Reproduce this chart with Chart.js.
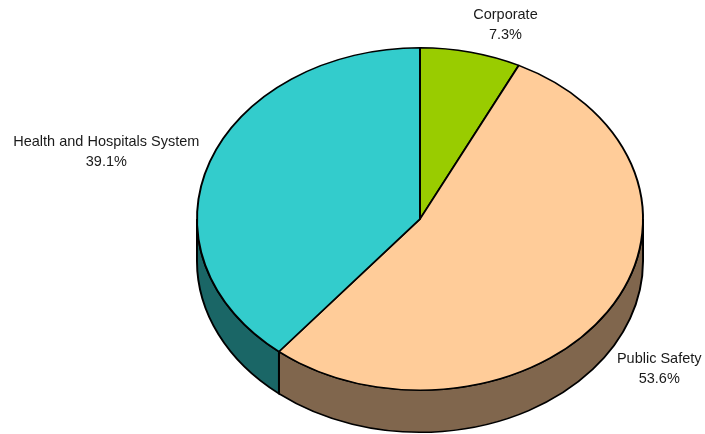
<!DOCTYPE html>
<html>
<head>
<meta charset="utf-8">
<script src="https://cdn.jsdelivr.net/npm/chart.js@4"></script>
<style>
  html, body { margin: 0; padding: 0; background: #fff; }
  #wrap { width: 705px; height: 434px; position: relative; }
</style>
</head>
<body>
<div id="wrap"><canvas id="pie"></canvas></div>
<script>
const categories = ['Corporate', 'Public Safety', 'Health and Hospitals System'];
const shares = [7.3, 53.6, 39.1];
const colors = ['#99CC00', '#FFCC99', '#33CCCC'];

// darker tone for the rim of each slice
function shade(hex, k) {
  const n = parseInt(hex.slice(1), 16);
  const r = Math.round(((n >> 16) & 255) * k);
  const g = Math.round(((n >> 8) & 255) * k);
  const b = Math.round((n & 255) * k);
  return `rgb(${r},${g},${b})`;
}

// squash the pie into a tilted disc and draw its rim underneath
const tilt3d = {
  id: 'tilt3d',
  beforeDatasetsDraw(chart, args, opts) {
    const { ctx, chartArea } = chart;
    const arcs = chart.getDatasetMeta(0).data;
    if (!arcs.length) return;
    const { x, y } = arcs[0];
    const stretch = chartArea.width / chartArea.height;
    chart.$stretch = stretch;
    ctx.save();
    ctx.translate(x, y);
    ctx.scale(stretch, 1);
    ctx.translate(-x, -y);

    arcs.forEach((arc, i) => {
      const r = arc.outerRadius;
      const a = Math.max(arc.startAngle, 0);
      const b = Math.min(arc.endAngle, Math.PI);
      if (b <= a) return;
      ctx.beginPath();
      ctx.arc(x, y, r, a, b);
      ctx.lineTo(x + r * Math.cos(b), y + r * Math.sin(b) + opts.depth);
      ctx.arc(x, y + opts.depth, r, b, a, true);
      ctx.closePath();
      ctx.fillStyle = shade(colors[i], 0.5);
      ctx.fill();
      ctx.lineWidth = 1.5;
      ctx.strokeStyle = '#000';
      ctx.stroke();
    });
  },
  afterDatasetsDraw(chart) {
    chart.ctx.restore();
  },
  afterDraw(chart, args, opts) {
    const { ctx } = chart;
    const arcs = chart.getDatasetMeta(0).data;
    const total = shares.reduce((s, v) => s + v, 0);
    ctx.save();
    ctx.font = '14.5px "Liberation Sans", Arial, sans-serif';
    ctx.fillStyle = '#1a1a1a';
    ctx.textBaseline = 'middle';
    ctx.textAlign = 'center';
    const lh = 19.5;
    arcs.forEach((arc, i) => {
      const m = (arc.startAngle + arc.endAngle) / 2;
      const rx = arc.outerRadius * chart.$stretch * opts.offset;
      const ry = arc.outerRadius * opts.offset;
      const c = Math.cos(m), s = Math.sin(m);
      const px = arc.x + rx * c;
      const py = arc.y + ry * s + (s > 0 ? opts.depth : 0);
      const lines = [categories[i], (shares[i] / total * 100).toFixed(1) + '%'];
      const w = Math.max(...lines.map(t => ctx.measureText(t).width));
      const h = lh * lines.length;
      let cx = px;
      if (c > 0.1) cx = px + w / 2;
      else if (c < -0.1) cx = px - w / 2;
      const top = py - h / 2 + s * h / 2;
      lines.forEach((t, j) => ctx.fillText(t, cx, top + lh * j + lh / 2));
    });
    ctx.restore();
  }
};

new Chart(document.getElementById('pie'), {
  type: 'pie',
  data: {
    labels: categories,
    datasets: [{
      data: shares,
      backgroundColor: colors,
      borderColor: '#000',
      borderWidth: 1.5,
    }]
  },
  options: {
    responsive: true, maintainAspectRatio: false,
    animation: false,
    layout: { padding: { left: 196, right: 61, top: 47, bottom: 43 } },
    plugins: {
      legend: { display: false },
      tooltip: { enabled: false },
      tilt3d: { depth: 42, offset: 1.05 }
    }
  },
  plugins: [tilt3d]
});
</script>
</body>
</html>
